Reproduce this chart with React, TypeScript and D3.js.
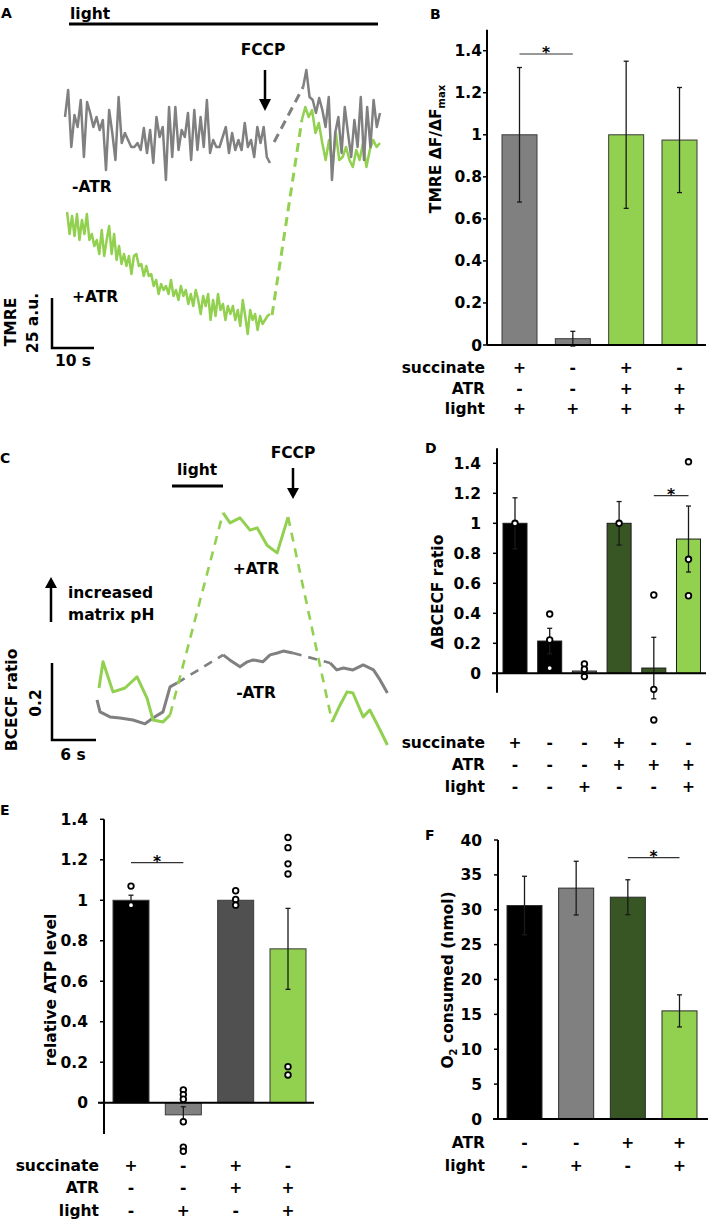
import React from "react";
import * as d3 from "d3";

const FONT = "'DejaVu Sans', 'Liberation Sans', sans-serif";
const FS = 15.5;
const GRAY = "#808080";
const GREEN = "#92d050";
const DKGREEN = "#375623";
const DKGRAY = "#505050";

// ---------------- Panel A data (TMRE a.u. traces) ----------------
const aGrayPre = [106.5,120,91.5,107.5,101.5,115,86.5,114,108.5,101.5,106.5,100,105,80,110,98.5,85,116.5,93.5,98.5,95,91.5,91.5,93.5,90,101,88.5,100,83.5,106.5,96.5,101.5,75,111.5,86.5,111.5,90,100,96.5,108.5,85,110,90,106.5,91.5,115,88.5,95,91.5,91.5,96.5,101.5,88.5,98.5,90,95,90,103.5,91.5,95,86.5,101.5,93.5,101.5,86.5,83.5];
const aGrayPreStart = 0, aGrayPreEnd = 48.8;
const aGrayPost = [121.5,130,116.5,115,108.5,116,110,101.5,116.5,75,98.5,106.5,88.5,111.5,98.5,86.5,105,91.5,116.5,85,111.5,91.5,115,101.5,108.5];
const aGrayPostStart = 56.7, aGrayPostEnd = 75;
const aGreenPre = [59,48,57,47,58,45,55,48,58,45,48,42,45,38,50,37,45,52,38,48,35,42,33,38,32,37,28,37,38,32,33,27,32,27,28,22,25,18,23,20,22,18,25,17,20,15,22,17,20,13,18,12,20,15,8,17,12,18,5,15,7,18,10,13,5,12,8,12,5,10,2,15,7,-2,10,5,8,0,7,3,5,7,8];
const aGreenPreStart = 0.5, aGreenPreEnd = 48.8;
const aGreenPost = [105,111.5,106.5,110,98.5,103.5,93.5,85,95,81.5,98.5,85,86.5,91.5,85,81.5,90,85,93.5,81.5,90,95,91.5,93.5];
const aGreenPostStart = 56.4, aGreenPostEnd = 75;
const aGrayDash: [number, number][] = [[49.8, 94], [56.7, 121.5]];
const aGreenDash: [number, number][] = [[49.3, 7.5], [56.4, 105]];

// ---------------- Panel C data (BCECF ratio traces) ----------------
const cGreen1: [number, number][] = [[0.27,0.135],[0.82,0.203],[2.18,0.125],[3.82,0.135],[5.46,0.164],[6.82,0.109],[7.64,0.052],[9.0,0.047],[9.96,0.065]];
const cGreenDash1: [number, number][] = [[9.96,0.065],[17.19,0.59]];
const cGreen2: [number, number][] = [[17.19,0.59],[18.14,0.564],[19.5,0.577],[20.87,0.545],[21.83,0.551],[23.19,0.506],[24.56,0.486],[26.06,0.579]];
const cGreenDash2: [number, number][] = [[26.06,0.579],[32.06,0.047]];
const cGreen3: [number, number][] = [[32.06,0.047],[33.15,0.091],[34.1,0.125],[34.9,0.122],[36.3,0.06],[37.2,0.078],[38.6,0.026],[39.6,-0.013]];
const cGray1: [number, number][] = [[0,0.104],[0.41,0.073],[1.77,0.06],[3.14,0.057],[4.91,0.052],[6.55,0.042],[7.64,0.057],[9.0,0.073],[9.96,0.138],[10.9,0.148]];
const cGrayDash1: [number, number][] = [[10.9,0.148],[17.2,0.221]];
const cGray2: [number, number][] = [[17.2,0.221],[18.1,0.208],[19.5,0.19],[20.5,0.203],[21.3,0.208],[22.6,0.203],[23.6,0.221],[24.6,0.226],[25.4,0.231],[26.7,0.226]];
const cGrayDash2: [number, number][] = [[26.7,0.226],[31.8,0.2]];
const cGray3: [number, number][] = [[31.8,0.2],[32.7,0.182],[33.6,0.187],[34.9,0.182],[36.3,0.195],[37.7,0.182],[38.6,0.156],[39.6,0.122]];

// ---------------- Panel B ----------------
const bValues = [1.0, 0.03, 1.0, 0.975];
const bErrors = [0.32, 0.035, 0.35, 0.25];
const bColors = [GRAY, GRAY, GREEN, GREEN];
const bSuccinate = ["+", "-", "+", "-"];
const bATR = ["-", "-", "+", "+"];
const bLight = ["+", "+", "+", "+"];

// ---------------- Panel D ----------------
const dValues = [1.0, 0.215, 0.015, 1.0, 0.035, 0.895];
const dErrors = [0.17, 0.085, 0.02, 0.145, 0.205, 0.22];
const dColors = ["#000000", "#000000", GRAY, DKGREEN, DKGREEN, GREEN];
const dDots = [[1.0], [0.395, 0.222, 0.035], [0.062, 0.027, -0.022], [1.0], [0.522, -0.107, -0.311], [1.41, 0.76, 0.517]];
const dSuccinate = ["+", "-", "-", "+", "-", "-"];
const dATR = ["-", "-", "-", "+", "+", "+"];
const dLight = ["-", "-", "+", "-", "-", "+"];

// ---------------- Panel E ----------------
const eValues = [1.0, -0.06, 1.0, 0.76];
const eErrors = [0.025, 0.04, 0.01, 0.2];
const eColors = ["#000000", GRAY, DKGRAY, GREEN];
const eDots = [[1.07, 0.976], [0.063, 0.04, 0.017, -0.094, -0.22, -0.24], [1.047, 1.004, 0.976], [1.31, 1.26, 1.18, 1.13, 0.178, 0.137]];
const eSuccinate = ["+", "-", "+", "-"];
const eATR = ["-", "-", "+", "+"];
const eLight = ["-", "+", "-", "+"];

// ---------------- Panel F ----------------
const fValues = [30.6, 33.1, 31.8, 15.5];
const fErrors = [4.2, 3.85, 2.5, 2.3];
const fColors = ["#000000", GRAY, DKGREEN, GREEN];
const fATR = ["-", "-", "+", "+"];
const fLight = ["-", "+", "-", "+"];

const ratioTicks = [0, 0.2, 0.4, 0.6, 0.8, 1, 1.2, 1.4];
const o2Ticks = [0, 5, 10, 15, 20, 25, 30, 35, 40];

function series(vals: number[], t0: number, t1: number): [number, number][] {
  const dt = (t1 - t0) / (vals.length - 1);
  return vals.map((v, i) => [t0 + i * dt, v]);
}

type BarProps = {
  y: d3.ScaleLinear<number, number>;
  x: d3.ScalePoint<string>;
  bw: number;
  values: number[];
  errors: number[];
  colors: string[];
  dots?: number[][];
  ticks: number[];
  axisX: number;
  axisTopV: number;
  axisBotV: number;
  xAxisL: number;
  xAxisR: number;
  tickLabelX: number;
  ylabel: React.ReactNode;
  ylabelPos: [number, number];
  tableLabelX: number;
  rows: [string, string[]][];
  rowYs: number[];
  sig: [number, number, number];
  stroke: string;
};

function BarPanel(p: BarProps) {
  const cats = p.x.domain();
  const y0 = p.y(0);
  return (
    <g>
      {cats.map((c, i) => {
        const v = p.values[i];
        const top = Math.min(p.y(v), y0);
        const h = Math.abs(p.y(v) - y0);
        return (
          <rect key={"b" + c} x={(p.x(c) as number) - p.bw / 2} y={top} width={p.bw} height={Math.max(h, 1)}
            fill={p.colors[i]} stroke={p.stroke} strokeWidth={1} />
        );
      })}
      {cats.map((c, i) => {
        const cx = p.x(c) as number;
        const hi = p.y(p.values[i] + p.errors[i]);
        const lo = p.y(p.values[i] - p.errors[i]);
        return (
          <g key={"e" + c} stroke="#1a1a1a" strokeWidth={1.3}>
            <line x1={cx} x2={cx} y1={hi} y2={lo} />
            <line x1={cx - 2.5} x2={cx + 2.5} y1={hi} y2={hi} />
            <line x1={cx - 2.5} x2={cx + 2.5} y1={lo} y2={lo} />
          </g>
        );
      })}
      {p.dots && cats.map((c, i) =>
        p.dots![i].map((d, j) => (
          <circle key={"d" + c + j} cx={p.x(c) as number} cy={p.y(d)} r={2.8} fill="#fff" stroke="#000" strokeWidth={1.8} />
        ))
      )}
      {/* axes */}
      <line x1={p.axisX} x2={p.axisX} y1={p.y(p.axisTopV)} y2={p.y(p.axisBotV)} stroke="#000" strokeWidth={2} />
      <line x1={p.xAxisL} x2={p.xAxisR} y1={y0} y2={y0} stroke="#000" strokeWidth={2} />
      {p.ticks.map((t) => (
        <g key={"t" + t}>
          <line x1={p.axisX - 4} x2={p.axisX} y1={p.y(t)} y2={p.y(t)} stroke="#000" strokeWidth={1.5} />
          <text x={p.tickLabelX} y={p.y(t) + 5.5} textAnchor="end">{String(t)}</text>
        </g>
      ))}
      <text transform={`translate(${p.ylabelPos[0] + 5.5},${p.ylabelPos[1]}) rotate(-90)`} textAnchor="middle">{p.ylabel}</text>
      {/* table */}
      {p.rows.map((r, ri) => (
        <g key={"r" + ri}>
          <text x={p.tableLabelX} y={p.rowYs[ri] + 5.5} textAnchor="end">{r[0]}</text>
          {r[1].map((s, si) => (
            <text key={si} x={p.x(cats[si]) as number} y={p.rowYs[ri] + 5.5} textAnchor="middle">{s}</text>
          ))}
        </g>
      ))}
      {/* significance */}
      <line x1={p.x(cats[p.sig[0]]) as number} x2={p.x(cats[p.sig[1]]) as number} y1={p.sig[2]} y2={p.sig[2]} stroke="#333" strokeWidth={1.2} />
      <text x={((p.x(cats[p.sig[0]]) as number) + (p.x(cats[p.sig[1]]) as number)) / 2} y={p.sig[2] + 4} textAnchor="middle">*</text>
    </g>
  );
}

function PanelA() {
  const x = d3.scaleLinear().domain([0, 10]).range([65, 107]);
  const y = d3.scaleLinear().domain([0, 25]).range([330, 280]);
  const line = d3.line<[number, number]>().x((d) => x(d[0])).y((d) => y(d[1]));
  const sbX = 52, sbY = 348;
  return (
    <g>
      <text x={1} y={18} fontSize={14}>A</text>
      <text x={70} y={19}>light</text>
      <line x1={69} x2={378} y1={24} y2={24} stroke="#000" strokeWidth={3} />
      <text x={263} y={55} textAnchor="middle">FCCP</text>
      <line x1={265} x2={265} y1={70} y2={101} stroke="#000" strokeWidth={2.5} />
      <polygon points="259,99 271,99 265,111" fill="#000" />
      <path d={line(series(aGreenPre, aGreenPreStart, aGreenPreEnd)) || ""} fill="none" stroke={GREEN} strokeWidth={2.5} strokeLinejoin="round" />
      <path d={line(aGreenDash) || ""} fill="none" stroke={GREEN} strokeWidth={3} strokeDasharray="9 6" />
      <path d={line(aGrayDash) || ""} fill="none" stroke={GRAY} strokeWidth={3} strokeDasharray="9 6" />
      <path d={line(series(aGrayPre, aGrayPreStart, aGrayPreEnd)) || ""} fill="none" stroke={GRAY} strokeWidth={2.5} strokeLinejoin="round" />
      <path d={line(series(aGreenPost, aGreenPostStart, aGreenPostEnd)) || ""} fill="none" stroke={GREEN} strokeWidth={2.5} strokeLinejoin="round" />
      <path d={line(series(aGrayPost, aGrayPostStart, aGrayPostEnd)) || ""} fill="none" stroke={GRAY} strokeWidth={2.5} strokeLinejoin="round" />
      <text x={72} y={192}>-ATR</text>
      <text x={72} y={302}>+ATR</text>
      <path d={`M${sbX},${sbY - (y(0) - y(25))}V${sbY}H${sbX + (x(10) - x(0))}`} fill="none" stroke="#000" strokeWidth={2.5} />
      <text transform={`translate(${10 + 5.5},322) rotate(-90)`} textAnchor="middle">TMRE</text>
      <text transform={`translate(${32 + 5.5},323) rotate(-90)`} textAnchor="middle">25 a.u.</text>
      <text x={73} y={366} textAnchor="middle">10 s</text>
    </g>
  );
}

function PanelC() {
  const x = d3.scaleLinear().domain([0, 6]).range([97, 141]);
  const y = d3.scaleLinear().domain([0, 0.2]).range([740, 663]);
  const line = d3.line<[number, number]>().x((d) => x(d[0])).y((d) => y(d[1]));
  const sbX = 52, sbY = 740;
  const solid = (d: [number, number][], c: string, k: string) => (
    <path key={k} d={line(d) || ""} fill="none" stroke={c} strokeWidth={3} strokeLinejoin="round" />
  );
  const dash = (d: [number, number][], c: string, k: string) => (
    <path key={k} d={line(d) || ""} fill="none" stroke={c} strokeWidth={2.6} strokeDasharray="9 7" />
  );
  return (
    <g>
      <text x={0} y={463} fontSize={14}>C</text>
      <text x={177} y={475}>light</text>
      <line x1={172} x2={223} y1={486} y2={486} stroke="#000" strokeWidth={3} />
      <text x={293} y={458} textAnchor="middle">FCCP</text>
      <line x1={293} x2={293} y1={468} y2={490} stroke="#000" strokeWidth={2.5} />
      <polygon points="287,488 299,488 293,499" fill="#000" />
      <line x1={51} x2={51} y1={622} y2={586} stroke="#000" strokeWidth={2.5} />
      <polygon points="45,588 57,588 51,577" fill="#000" />
      <text x={68} y={598}>increased</text>
      <text x={68} y={620}>matrix pH</text>
      {solid(cGray1, GRAY, "g1")}
      {dash(cGrayDash1, GRAY, "gd1")}
      {solid(cGray2, GRAY, "g2")}
      {dash(cGrayDash2, GRAY, "gd2")}
      {solid(cGray3, GRAY, "g3")}
      {solid(cGreen1, GREEN, "n1")}
      {dash(cGreenDash1, GREEN, "nd1")}
      {solid(cGreen2, GREEN, "n2")}
      {dash(cGreenDash2, GREEN, "nd2")}
      {solid(cGreen3, GREEN, "n3")}
      <text x={256} y={574} textAnchor="middle">+ATR</text>
      <text x={256} y={698} textAnchor="middle">-ATR</text>
      <path d={`M${sbX},${sbY - (y(0) - y(0.2))}V${sbY}H${sbX + (x(6) - x(0))}`} fill="none" stroke="#000" strokeWidth={2.5} />
      <text transform={`translate(${11 + 5.5},700) rotate(-90)`} textAnchor="middle">BCECF ratio</text>
      <text transform={`translate(${35 + 5.5},703) rotate(-90)`} textAnchor="middle">0.2</text>
      <text x={73} y={760} textAnchor="middle">6 s</text>
    </g>
  );
}

export default function App() {
  const catsB = bValues.map((_, i) => "b" + i);
  const yB = d3.scaleLinear().domain([0, 1.4]).range([345, 50.7]);
  const xB = d3.scalePoint<string>().domain(catsB).range([519.5, 679.5]);

  const catsD = dValues.map((_, i) => "d" + i);
  const yD = d3.scaleLinear().domain([0, 1.4]).range([673.3, 463.3]);
  const xD = d3.scalePoint<string>().domain(catsD).range([515, 688.5]);

  const catsE = eValues.map((_, i) => "e" + i);
  const yE = d3.scaleLinear().domain([0, 1.4]).range([1102.7, 819.3]);
  const xE = d3.scalePoint<string>().domain(catsE).range([131, 288]);

  const catsF = fValues.map((_, i) => "f" + i);
  const yF = d3.scaleLinear().domain([0, 40]).range([1119, 840]);
  const xF = d3.scalePoint<string>().domain(catsF).range([524.5, 679.5]);

  return (
    <svg width={709} height={1222} style={{ position: "absolute", left: 0, top: 0, background: "#fff" }}
      fontFamily={FONT} fontWeight="bold" fontSize={FS} fill="#000">
      <rect width={709} height={1222} fill="#fff" />
      <PanelA />
      <PanelC />
      <text x={430} y={19} fontSize={14}>B</text>
      <BarPanel y={yB} x={xB} bw={35} values={bValues} errors={bErrors} colors={bColors}
        ticks={ratioTicks} axisX={487} axisTopV={1.5} axisBotV={0} xAxisL={487} xAxisR={706} tickLabelX={482}
        ylabel={<>TMRE ΔF/ΔF<tspan fontSize={10} dy={4}>max</tspan></>} ylabelPos={[435, 149]}
        tableLabelX={485} rows={[["succinate", bSuccinate], ["ATR", bATR], ["light", bLight]]} rowYs={[367, 388, 408]}
        sig={[0, 1, 54]} stroke="#3a3a3a" />
      <text x={425} y={453} fontSize={14}>D</text>
      <BarPanel y={yD} x={xD} bw={24} values={dValues} errors={dErrors} colors={dColors} dots={dDots}
        ticks={ratioTicks} axisX={497} axisTopV={1.5} axisBotV={-0.13} xAxisL={492} xAxisR={706} tickLabelX={481}
        ylabel={<>ΔBCECF ratio</>} ylabelPos={[437, 592]}
        tableLabelX={485} rows={[["succinate", dSuccinate], ["ATR", dATR], ["light", dLight]]} rowYs={[742, 764, 786]}
        sig={[4, 5, 495.7]} stroke="#1a1a1a" />
      <text x={0} y={815} fontSize={14}>E</text>
      <BarPanel y={yE} x={xE} bw={36} values={eValues} errors={eErrors} colors={eColors} dots={eDots}
        ticks={ratioTicks} axisX={104} axisTopV={1.4} axisBotV={-0.155} xAxisL={98} xAxisR={314} tickLabelX={88}
        ylabel={<>relative ATP level</>} ylabelPos={[50, 990]}
        tableLabelX={99} rows={[["succinate", eSuccinate], ["ATR", eATR], ["light", eLight]]} rowYs={[1165, 1187, 1210]}
        sig={[0, 1, 862.7]} stroke="#3a3a3a" />
      <text x={425} y={840} fontSize={14}>F</text>
      <BarPanel y={yF} x={xF} bw={35} values={fValues} errors={fErrors} colors={fColors}
        ticks={o2Ticks} axisX={498} axisTopV={40} axisBotV={0} xAxisL={493} xAxisR={708} tickLabelX={482}
        ylabel={<>O<tspan fontSize={10} dy={4}>2</tspan><tspan dy={-4}> consumed (nmol)</tspan></>} ylabelPos={[447, 980]}
        tableLabelX={485} rows={[["ATR", fATR], ["light", fLight]]} rowYs={[1142, 1165]}
        sig={[2, 3, 857.7]} stroke="#2a2a2a" />
    </svg>
  );
}
